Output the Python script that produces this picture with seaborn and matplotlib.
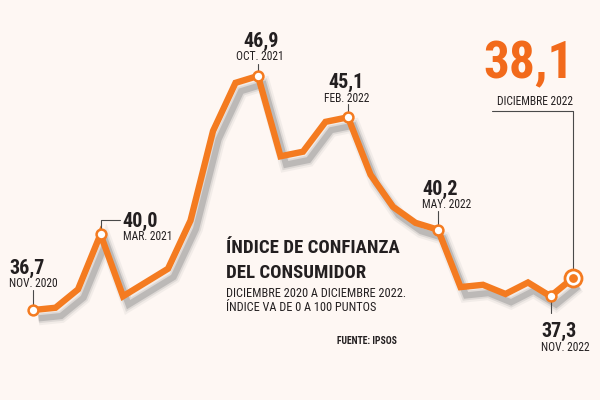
import numpy as np
import pandas as pd
import matplotlib
matplotlib.use("Agg")
import matplotlib.pyplot as plt
import matplotlib.transforms as mtransforms
import matplotlib.patheffects as pe
from matplotlib import font_manager as fm
import seaborn as sns

# ---- data ----
values = [36.7, 36.8, 37.6, 40.0, 37.3, 37.9, 38.5, 40.6, 44.5, 46.6, 46.9,
          43.4, 43.6, 44.9, 45.1, 42.6, 41.2, 40.5, 40.2, 37.7, 37.8, 37.4,
          37.9, 37.3, 38.1]
label_idx = [0, 3, 10, 14, 18, 23]
label_val = ["36,7", "40,0", "46,9", "45,1", "40,2", "37,3"]
label_date = ["NOV. 2020", "MAR. 2021", "OCT. 2021", "FEB. 2022", "MAY. 2022", "NOV. 2022"]
last_val = "38,1"
last_date = "DICIEMBRE 2022"
title_lines = ["ÍNDICE DE CONFIANZA", "DEL CONSUMIDOR"]
subtitle_lines = ["DICIEMBRE 2020 A DICIEMBRE 2022.", "ÍNDICE VA DE 0 A 100 PUNTOS"]
source = "FUENTE: IPSOS"

df = pd.DataFrame({"t": np.arange(len(values)), "v": values})

BG = "#FEF7F3"
ORANGE = "#F47B20"
DARK = "#231F20"
GREY = "#4a4a4a"

sns.set_theme(style="white")
plt.rcParams["font.family"] = ["DejaVu Sans"]


def pick(patterns, fallback):
    files = [f.fname for f in fm.fontManager.ttflist]
    for p in patterns:
        for fn in files:
            if p in fn.split("/")[-1]:
                return fm.FontProperties(fname=fn), p
    return fallback, "fallback"


BOLD, bname = pick(["NotoSans-ExtraCondensedBold", "NotoSans-ExtraCondensedSemiBold",
                    "RobotoCondensed-Bold", "NotoSans-CondensedBold",
                    "LiberationSansNarrow-Bold.", "DejaVuSansCondensed-Bold."],
                   fm.FontProperties(family="DejaVu Sans", stretch="condensed", weight="bold"))
REG, rname = pick(["NotoSans-ExtraCondensed.", "RobotoCondensed-Regular",
                   "NotoSans-Condensed.", "LiberationSansNarrow-Regular",
                   "DejaVuSansCondensed."],
                  fm.FontProperties(family="DejaVu Sans", stretch="condensed"))


def fp(base, size):
    f = base.copy()
    f.set_size(size)
    return f


fig = plt.figure(figsize=(6, 4), dpi=100, facecolor=BG)
ax = fig.add_axes([0, 0, 1, 1])
ax.set_facecolor(BG)
ax.set_xlim(-1.467, 25.2)
ax.set_ylim(32.78, 50.21)
ax.axis("off")

shadow = [
    pe.SimpleLineShadow(offset=(4, -6), shadow_color="#a0a0a0", alpha=0.12, linewidth=10),
    pe.SimpleLineShadow(offset=(4, -6), shadow_color="#999999", alpha=0.22, linewidth=7),
    pe.SimpleLineShadow(offset=(4, -6), shadow_color="#8a8a8a", alpha=0.40, linewidth=4.5),
    pe.Normal(),
]
sns.lineplot(data=df, x="t", y="v", ax=ax, color=ORANGE, linewidth=4.6,
             solid_joinstyle="miter", solid_capstyle="butt", legend=False)
ax.lines[-1].set_path_effects(shadow)


def px_line(xi, yi, xs, ys):
    tr = mtransforms.Affine2D() + mtransforms.ScaledTranslation(xi, yi, ax.transData)
    ax.plot(xs, ys, color=GREY, lw=0.8, transform=tr, zorder=3)


# leader lines (pixel offsets from markers)
leaders = {
    0: ([0, 0], [5, 20]),
    3: ([0, 0, 19], [5, 14, 14]),
    10: ([0, 0], [5, 12]),
    14: ([0, 0], [5, 13]),
    18: ([0, 0], [5, 19]),
    23: ([0, 0], [-5, -17]),
}
for i in label_idx:
    xs, ys = leaders[i]
    px_line(i, values[i], xs, ys)
px_line(24, values[24], [0, 0, -81], [7, 167, 167])

# markers
mk = df.iloc[label_idx]
sns.scatterplot(data=mk, x="t", y="v", ax=ax, s=50, color="white",
                edgecolor=ORANGE, linewidth=1.8, zorder=5, legend=False)
last = df.iloc[[24]]
sns.scatterplot(data=last, x="t", y="v", ax=ax, s=150, color="white",
                edgecolor=ORANGE, linewidth=2, zorder=5, legend=False)
sns.scatterplot(data=last, x="t", y="v", ax=ax, s=40, color=ORANGE,
                edgecolor=ORANGE, linewidth=0, zorder=6, legend=False)
ax.set_xlabel("")
ax.set_ylabel("")

# labels: (dx_val, dy_val, dx_date, dy_date, ha)
pos = {
    0: (-24, 36, -24, 23, "left"),
    3: (22, 7, 22, -6, "left"),
    10: (3, 29, 2, 16, "center"),
    14: (-2, 29, -1, 15, "center"),
    18: (-16, 35, -16, 22, "left"),
    23: (-9, -41, -10, -55, "left"),
}
VAL_FP = fp(BOLD, 14.5)
DATE_FP = fp(REG, 8.3)
for i, v, d in zip(label_idx, label_val, label_date):
    dxv, dyv, dxd, dyd, ha = pos[i]
    ax.annotate(v, xy=(i, values[i]), xytext=(dxv, dyv), textcoords="offset pixels",
                ha=ha, va="baseline", fontproperties=VAL_FP, color=DARK, zorder=7)
    ax.annotate(d, xy=(i, values[i]), xytext=(dxd, dyd), textcoords="offset pixels",
                ha=ha, va="baseline", fontproperties=DATE_FP, color=DARK, zorder=7)

ax.annotate(last_val, xy=(24, values[24]), xytext=(1, 200), textcoords="offset pixels",
            ha="right", va="baseline", fontproperties=fp(BOLD, 37), color="#F26A1B",
            zorder=7)
ax.annotate(last_date, xy=(24, values[24]), xytext=(0, 173), textcoords="offset pixels",
            ha="right", va="baseline", fontproperties=DATE_FP, color=DARK, zorder=7)


def ftext(x, y, s, prop):
    fig.text(x / 600, 1 - y / 400, s, va="baseline", ha="left", fontproperties=prop,
             color=DARK)


ftext(226, 253, title_lines[0], fp(BOLD, 13.5))
ftext(226, 278, title_lines[1], fp(BOLD, 13.5))
ftext(226, 297, subtitle_lines[0], fp(REG, 8.8))
ftext(226, 311, subtitle_lines[1], fp(REG, 8.8))
ftext(337, 344, source, fp(BOLD, 7))

fig.savefig("out.png", dpi=100, facecolor=BG)
